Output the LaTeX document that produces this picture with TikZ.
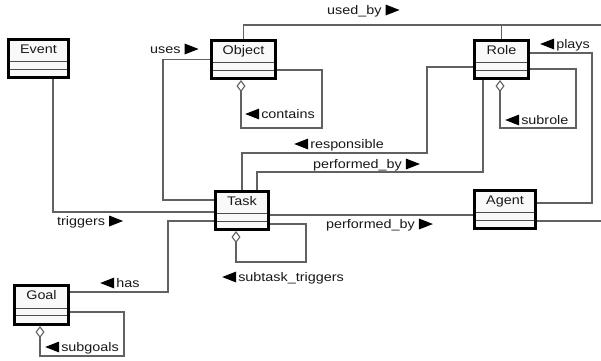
\documentclass[tikz,border=0pt]{standalone}
\usepackage{fontspec}
\setmainfont{Liberation Sans}[FakeStretch=1.15]
\usetikzlibrary{arrows.meta,calc}
\pgfdeclarelayer{bg}
\pgfsetlayers{bg,main}
\newcommand{\rtri}{\tikz[baseline=0pt]\fill[black] (0pt,-1.5pt) -- (14pt,4pt) -- (0pt,9.5pt) -- cycle;}
\newcommand{\ltri}{\tikz[baseline=0pt]\fill[black] (14pt,-1.5pt) -- (0pt,4pt) -- (14pt,9.5pt) -- cycle;}
\newcommand{\umlclass}[6]{%
  \node[classbox, minimum width=#4pt, minimum height=#5pt] (#1) at (#2,#3) {};
  \node[cname] (#1-name) at ([yshift=-15pt]#1.north) {#6};}
\begin{document}
\begin{tikzpicture}[x=1pt,y=-1pt,
  conn/.style={draw=black!62, line width=1.1pt},
  aggr/.style={{Diamond[fill=white,length=12pt,width=9pt]}-},
  classbox/.style={draw=black, line width=3.4pt, fill=gray!5, inner sep=0pt,
    path picture={
      \draw[black!70, line width=0.9pt]
        ($(path picture bounding box.north west)!0.58!(path picture bounding box.south west)$) --
        ($(path picture bounding box.north east)!0.58!(path picture bounding box.south east)$)
        ($(path picture bounding box.north west)!0.78!(path picture bounding box.south west)$) --
        ($(path picture bounding box.north east)!0.78!(path picture bounding box.south east)$);
    }},
  cname/.style={inner sep=0pt, anchor=base, text=black!90, font=\fontsize{12.5}{15}\selectfont},
  lbl/.style={inner sep=0pt, anchor=base west, text=black!90, font=\fontsize{12.5}{15}\selectfont}]
\useasboundingbox (0,0) rectangle (601,360);

\umlclass{event}{38.5}{58.5}{59.6}{37.6}{Event}
\umlclass{object}{243.5}{59.5}{63.6}{37.6}{Object}
\umlclass{role}{501.5}{59.5}{53.6}{37.6}{Role}
\umlclass{task}{242}{210.5}{52.6}{37.6}{Task}
\umlclass{agent}{505}{209.5}{60.6}{37.6}{Agent}
\umlclass{goal}{41.5}{305}{53.6}{38.6}{Goal}

\coordinate (ubEnd) at (601,25);
\coordinate (agEnd) at (601,221);

\begin{pgfonlayer}{bg}
\path[fill=white] (0,0) rectangle (601,360);
% used_by
\draw[conn] (object.north) |- (ubEnd);
\draw[conn] (role.north) -- (role.north |- ubEnd);
% uses
\draw[conn] (object.west) -| (163,200) -- ([yshift=10.5pt]task.west);
% triggers
\draw[conn] ([xshift=14.5pt]event.south) |- ([yshift=-1.5pt]task.west);
% has
\draw[conn] ([yshift=-10.5pt]task.west) -| (168,292) -- ([yshift=13pt]goal.east);
% performed_by (lower)
\draw[conn] ([yshift=-4.5pt]task.east) -- ([yshift=-4.5pt]task.east -| agent.west);
% agent to right edge
\draw[conn] ([yshift=-11.5pt]agent.east) -- ([yshift=-11.5pt]agent.east -| agEnd);
% plays
\draw[conn] ([yshift=6.5pt]agent.east) -| (592,53) -- ([yshift=6.5pt]role.east);
% responsible
\draw[conn] ([yshift=-7.5pt]role.west) -| (427,153) -| (task.north);
% performed_by (upper)
\draw[conn] ([xshift=-18.5pt]role.south) |- (257,172) -- ([xshift=15pt]task.north);
% contains
\draw[conn, aggr] ([xshift=-2.5pt]object.south) |- (322,128) |- ([yshift=-10.5pt]object.east);
% subrole
\draw[conn, aggr] ([xshift=-1.5pt]role.south) |- (576,128) |- ([yshift=-9.5pt]role.east);
% subtask_triggers
\draw[conn, aggr] ([xshift=-6pt]task.south) |- (306,262) |- ([yshift=-13.5pt]task.east);
% subgoals
\draw[conn, aggr] ([xshift=-1.5pt]goal.south) |- (124,356) |- ([yshift=-7pt]goal.east);
\end{pgfonlayer}

\node[lbl] (l-usedby) at (327,14) {used\_by \rtri};
\node[lbl] (l-uses) at (150,53) {uses \rtri};
\node[lbl] (l-contains) at (245,118) {\ltri\,contains};
\node[lbl] (l-resp) at (294,148) {\ltri\,responsible};
\node[lbl] (l-perf1) at (313,168) {performed\_by \rtri};
\node[lbl] (l-plays) at (540,48) {\ltri\,plays};
\node[lbl] (l-subrole) at (505,124) {\ltri\,subrole};
\node[lbl] (l-trig) at (57,225) {triggers \rtri};
\node[lbl] (l-perf2) at (326,228) {performed\_by \rtri};
\node[lbl] (l-subtask) at (222,281) {\ltri\,subtask\_triggers};
\node[lbl] (l-has) at (100,287) {\ltri\,has};
\node[lbl] (l-subgoals) at (45,351) {\ltri\,subgoals};
\end{tikzpicture}
\end{document}
